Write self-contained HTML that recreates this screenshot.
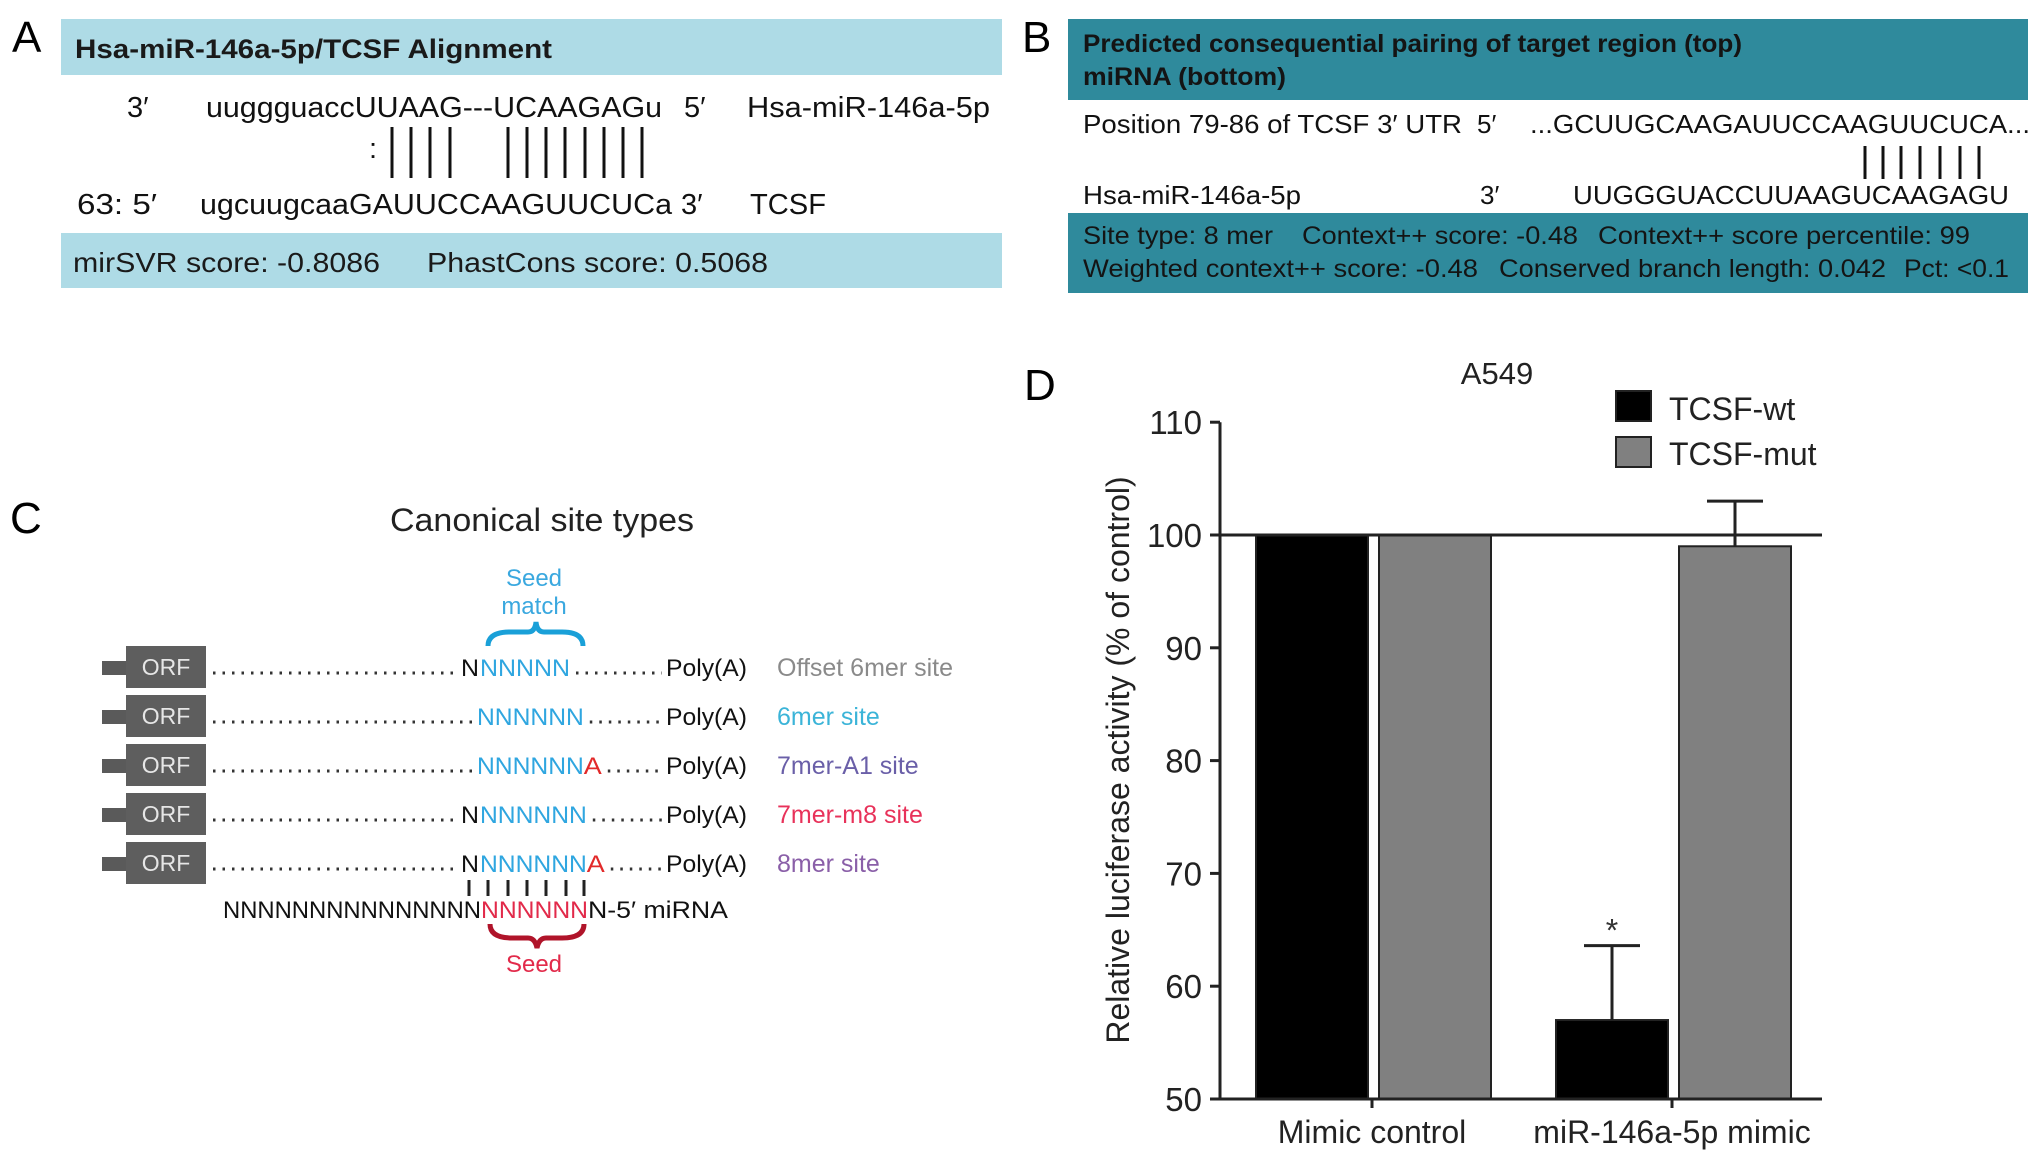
<!DOCTYPE html>
<html><head><meta charset="utf-8"><style>
html,body{margin:0;padding:0;background:#fff;}
svg{display:block;font-family:"Liberation Sans",sans-serif;}
</style></head><body>
<svg id="fig" width="2032" height="1162" viewBox="0 0 2032 1162" xmlns="http://www.w3.org/2000/svg">
<!-- Panel A -->
<g>
<text x="12" y="52" font-size="44">A</text>
<rect x="61" y="19" width="941" height="56" fill="#aedbe6"/>
<text x="75" y="58" font-size="27" font-weight="bold" fill="#1a1a1a" textLength="477" lengthAdjust="spacingAndGlyphs">Hsa-miR-146a-5p/TCSF Alignment</text>
<g font-size="29" fill="#111">
<text x="127" y="117">3′</text>
<text x="206" y="117" textLength="456" lengthAdjust="spacingAndGlyphs">uuggguaccUUAAG---UCAAGAGu</text>
<text x="684" y="117">5′</text>
<text x="747" y="117" textLength="243" lengthAdjust="spacingAndGlyphs">Hsa-miR-146a-5p</text>
<text x="369" y="158">:</text>
<text x="77" y="214" textLength="80" lengthAdjust="spacingAndGlyphs">63: 5′</text>
<text x="200" y="214" textLength="472" lengthAdjust="spacingAndGlyphs">ugcuugcaaGAUUCCAAGUUCUCa</text>
<text x="681" y="214">3′</text>
<text x="750" y="214" textLength="76" lengthAdjust="spacingAndGlyphs">TCSF</text>
</g>
<g stroke="#111" stroke-width="3">
<line x1="392" y1="127" x2="392" y2="178"/><line x1="411" y1="127" x2="411" y2="178"/><line x1="430" y1="127" x2="430" y2="178"/><line x1="450" y1="127" x2="450" y2="178"/>
<line x1="508" y1="127" x2="508" y2="178"/><line x1="527" y1="127" x2="527" y2="178"/><line x1="546" y1="127" x2="546" y2="178"/><line x1="565" y1="127" x2="565" y2="178"/><line x1="585" y1="127" x2="585" y2="178"/><line x1="604" y1="127" x2="604" y2="178"/><line x1="623" y1="127" x2="623" y2="178"/><line x1="642" y1="127" x2="642" y2="178"/>
</g>
<rect x="61" y="233" width="941" height="55" fill="#aedbe6"/>
<text x="73" y="272" font-size="28" fill="#1a1a1a" textLength="307" lengthAdjust="spacingAndGlyphs">mirSVR score: -0.8086</text>
<text x="427" y="272" font-size="28" fill="#1a1a1a" textLength="341" lengthAdjust="spacingAndGlyphs">PhastCons score: 0.5068</text>
</g>

<!-- Panel B -->
<g>
<text x="1022" y="52" font-size="44">B</text>
<rect x="1068" y="19" width="960" height="81" fill="#2f8a9c"/>
<text x="1083" y="52" font-size="25" font-weight="bold" fill="#141414" textLength="659" lengthAdjust="spacingAndGlyphs">Predicted consequential pairing of target region (top)</text>
<text x="1083" y="85" font-size="25" font-weight="bold" fill="#141414" textLength="203" lengthAdjust="spacingAndGlyphs">miRNA (bottom)</text>
<g font-size="26" fill="#111">
<text x="1083" y="133" textLength="379" lengthAdjust="spacingAndGlyphs">Position 79-86 of TCSF 3′ UTR</text>
<text x="1477" y="133">5′</text>
<text x="1530" y="133" textLength="500" lengthAdjust="spacingAndGlyphs">...GCUUGCAAGAUUCCAAGUUCUCA...</text>
<text x="1083" y="204" textLength="218" lengthAdjust="spacingAndGlyphs">Hsa-miR-146a-5p</text>
<text x="1480" y="204">3′</text>
<text x="1573" y="204" textLength="436" lengthAdjust="spacingAndGlyphs">UUGGGUACCUUAAGUCAAGAGU</text>
</g>
<g stroke="#111" stroke-width="3">
<line x1="1865" y1="146" x2="1865" y2="179"/><line x1="1883" y1="146" x2="1883" y2="179"/><line x1="1901" y1="146" x2="1901" y2="179"/><line x1="1920" y1="146" x2="1920" y2="179"/><line x1="1940" y1="146" x2="1940" y2="179"/><line x1="1960" y1="146" x2="1960" y2="179"/><line x1="1979" y1="146" x2="1979" y2="179"/>
</g>
<rect x="1068" y="213" width="960" height="80" fill="#2f8a9c"/>
<g font-size="25" fill="#141414">
<text x="1083" y="244" textLength="190" lengthAdjust="spacingAndGlyphs">Site type: 8 mer</text>
<text x="1302" y="244" textLength="276" lengthAdjust="spacingAndGlyphs">Context++ score: -0.48</text>
<text x="1598" y="244" textLength="372" lengthAdjust="spacingAndGlyphs">Context++ score percentile: 99</text>
<text x="1083" y="277" textLength="395" lengthAdjust="spacingAndGlyphs">Weighted context++ score: -0.48</text>
<text x="1499" y="277" textLength="387" lengthAdjust="spacingAndGlyphs">Conserved branch length: 0.042</text>
<text x="1904" y="277" textLength="105" lengthAdjust="spacingAndGlyphs">Pct: &lt;0.1</text>
</g>
</g>

<!-- Panel C -->
<g font-size="24">
<text x="10" y="533" font-size="44">C</text>
<text x="390" y="531" font-size="32" fill="#222" textLength="304" lengthAdjust="spacingAndGlyphs">Canonical site types</text>
<text x="534" y="586" fill="#3aa8df" text-anchor="middle">Seed</text>
<text x="534" y="614" fill="#3aa8df" text-anchor="middle">match</text>
<path d="M488,646 Q488,632 510,632 L528,632 Q535,632 536,622 Q537,632 544,632 L562,632 Q583,632 583,646" fill="none" stroke="#1aa0d8" stroke-width="5"/>
<g id="rows"></g>
<g stroke="#222" stroke-width="3">
<line x1="469" y1="880" x2="469" y2="896"/><line x1="488" y1="880" x2="488" y2="896"/><line x1="508" y1="880" x2="508" y2="896"/><line x1="527" y1="880" x2="527" y2="896"/><line x1="546" y1="880" x2="546" y2="896"/><line x1="566" y1="880" x2="566" y2="896"/><line x1="584" y1="880" x2="584" y2="896"/>
</g>
<text x="223" y="918" fill="#111" textLength="258" lengthAdjust="spacingAndGlyphs">NNNNNNNNNNNNNNN</text>
<text x="481" y="918" fill="#e22a4a" textLength="107" lengthAdjust="spacingAndGlyphs">NNNNNN</text>
<text x="588" y="918" fill="#111" textLength="140" lengthAdjust="spacingAndGlyphs">N-5′ miRNA</text>
<path d="M490,924 Q490,938 512,938 L528,938 Q535,938 537,948 Q539,938 546,938 L562,938 Q584,938 584,924" fill="none" stroke="#b0142a" stroke-width="5"/>
<text x="534" y="972" fill="#e22a4a" text-anchor="middle">Seed</text>
</g>

<!-- Panel D -->
<g>
<text x="1024" y="400" font-size="44">D</text>
<text x="1497" y="384" font-size="31" text-anchor="middle" fill="#222">A549</text>
<rect x="1616" y="391" width="35" height="30" fill="#000" stroke="#222" stroke-width="2"/>
<text x="1669" y="420" font-size="32" fill="#222">TCSF-wt</text>
<rect x="1616" y="437" width="35" height="30" fill="#808080" stroke="#222" stroke-width="2"/>
<text x="1669" y="465" font-size="32" fill="#222">TCSF-mut</text>
<g id="chart"></g>
<text transform="translate(1129,760) rotate(-90)" font-size="32" text-anchor="middle" fill="#222">Relative luciferase activity (% of control)</text>
</g>
</svg>
<script>
var NS='http://www.w3.org/2000/svg';
function mk(tag,attrs,parent){var e=document.createElementNS(NS,tag);for(var k in attrs)e.setAttribute(k,attrs[k]);parent.appendChild(e);return e;}

// Panel C rows
var rowLabels=['Offset 6mer site','6mer site','7mer-A1 site','7mer-m8 site','8mer site'];
var rowColors=['#8a8a8a','#3bb4d8','#6a5fa8','#e8325a','#8a5fa8'];
var rowLeadN=[true,false,false,true,true];
var rowBlue=['NNNNN','NNNNNN','NNNNNN','NNNNNN','NNNNNN'];
var rowA=[false,false,true,false,true];
var rowsG=document.getElementById('rows');
for(var i=0;i<rowLabels.length;i++){
  var by=676+i*49;
  var g=mk('g',{},rowsG);
  
  
  mk('rect',{x:102,y:by-15,width:26,height:14,fill:'#5a5a5a'},g);
  var orf=mk('rect',{x:126,y:by-30,width:80,height:42,fill:'#5e5e5e'},g);
  
  
  var ot=mk('text',{x:166,y:by-1,'font-size':23,fill:'#e6e6e6','text-anchor':'middle'},g);ot.textContent='ORF';
  var nx = rowLeadN[i]?461:477;
  mk('line',{x1:213,y1:by-3,x2:nx-3,y2:by-3,stroke:'#333','stroke-width':3,'stroke-dasharray':'2.5 7'},g);
  if(rowLeadN[i]){var tn=mk('text',{x:461,y:by,'font-size':24,fill:'#111',textLength:18,lengthAdjust:'spacingAndGlyphs'},g);tn.textContent='N';}
  var bw=rowBlue[i].length*17.8;
  var bx=rowLeadN[i]?480:477;
  if(i===0)bw=90;
  var tb=mk('text',{x:bx,y:by,'font-size':24,fill:'#2fa6e0',textLength:bw,lengthAdjust:'spacingAndGlyphs'},g);tb.textContent=rowBlue[i];
  var endx=bx+bw;
  if(rowA[i]){var ta=mk('text',{x:endx,y:by,'font-size':24,fill:'#e22a2a',textLength:18,lengthAdjust:'spacingAndGlyphs'},g);ta.textContent='A';endx+=18;}
  mk('line',{x1:endx+6,y1:by-3,x2:662,y2:by-3,stroke:'#333','stroke-width':3,'stroke-dasharray':'2.5 7'},g);
  var tp=mk('text',{x:666,y:by,'font-size':24,fill:'#111',textLength:81,lengthAdjust:'spacingAndGlyphs'},g);tp.textContent='Poly(A)';
  var tl=mk('text',{x:777,y:by,'font-size':25,fill:rowColors[i]},g);tl.textContent=rowLabels[i];
  
  
}

// Panel D chart data
var categories=['Mimic control','miR-146a-5p mimic'];
var wtValues=[100,57];
var mutValues=[100,99];
var wtErrors=[0,6.6];
var mutErrors=[0,4];
var yTicks=[50,60,70,80,90,100,110];
var sig=[false,true];

var chart=document.getElementById('chart');
var Y0=1099, PX=11.28, XL=1220, XR=1822;
function y(v){return Y0-(v-50)*PX;}
var centers=[1372,1672];
function cx(i){return centers[0]+i*(centers[1]-centers[0]);}
var BW=112;
for(var i=0;i<categories.length;i++){
  var c=cx(i);
  var b1=mk('rect',{x:c-116,y:y(wtValues[i]),width:BW,height:Y0-y(wtValues[i]),fill:'#000',stroke:'#222','stroke-width':2},chart);
  
  
  var b2=mk('rect',{x:c+7,y:y(mutValues[i]),width:BW,height:Y0-y(mutValues[i]),fill:'#808080',stroke:'#222','stroke-width':2},chart);
  
  
  if(wtErrors[i]>0){
    var ex=c-116+BW/2;
    var e1=mk('path',{d:'M'+ex+','+y(wtValues[i])+'V'+y(wtValues[i]+wtErrors[i])+'M'+(ex-28)+','+y(wtValues[i]+wtErrors[i])+'H'+(ex+28),stroke:'#222','stroke-width':3,fill:'none'},chart);
    
    
    if(sig[i]){var st=mk('text',{x:ex,y:y(wtValues[i]+wtErrors[i])-4,'font-size':32,'text-anchor':'middle',fill:'#333'},chart);st.textContent='*';
      
      }
  }
  if(mutErrors[i]>0){
    var mx=c+7+BW/2;
    var e2=mk('path',{d:'M'+mx+','+y(mutValues[i])+'V'+y(mutValues[i]+mutErrors[i])+'M'+(mx-28)+','+y(mutValues[i]+mutErrors[i])+'H'+(mx+28),stroke:'#222','stroke-width':3,fill:'none'},chart);
    
    
  }
  var tk=mk('line',{x1:c,y1:Y0,x2:c,y2:Y0+9,stroke:'#222','stroke-width':3},chart);
  
  
  var xl=mk('text',{x:c,y:1143,'font-size':32,'text-anchor':'middle',fill:'#222'},chart);xl.textContent=categories[i];
  
  
}
var rl=mk('line',{x1:XL,y1:y(100),x2:XR,y2:y(100),stroke:'#222','stroke-width':3},chart);


var ya=mk('line',{x1:XL,y1:y(110),x2:XL,y2:Y0+1,stroke:'#222','stroke-width':3},chart);


var xa=mk('line',{x1:XL,y1:Y0,x2:XR,y2:Y0,stroke:'#222','stroke-width':3},chart);


for(var j=0;j<yTicks.length;j++){
  var yy=y(yTicks[j]);
  var t=mk('line',{x1:XL-10,y1:yy,x2:XL,y2:yy,stroke:'#222','stroke-width':3},chart);
  
  
  var tl2=mk('text',{x:XL-18,y:yy+12,'font-size':33,'text-anchor':'end',fill:'#222'},chart);tl2.textContent=yTicks[j];
  
  
}
</script>
</body></html>
